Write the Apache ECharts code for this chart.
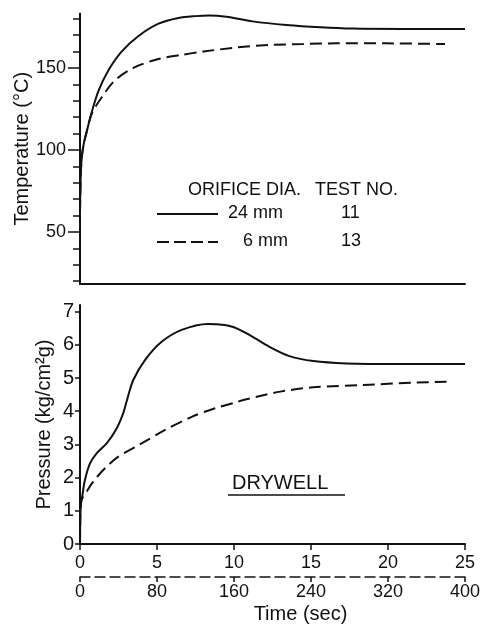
<!DOCTYPE html>
<html>
<head>
<meta charset="utf-8">
<script src="https://cdn.jsdelivr.net/npm/echarts@6/dist/echarts.min.js"></script>
<style>
  html, body { margin: 0; padding: 0; background: #fff; }
  #main { width: 488px; height: 625px; }
</style>
</head>
<body>
<div id="main"></div>
<script>
// temperature, 24 mm orifice (test 11)
var tTemp24 = [0, 0.05, 0.12, 0.25, 0.43, 0.76, 1.2, 1.84, 2.7, 3.8, 5.1, 6.4, 7.5, 8.4, 9.5, 11.2, 13.4, 15.6, 17.7, 21, 25];
var temp24 = [62, 85, 96, 104, 111, 123, 136, 148.5, 160, 169.5, 177, 180.5, 181.6, 182, 181.2, 178.4, 176.2, 174.8, 174, 173.8, 173.8];
// temperature, 6 mm orifice (test 13)
var tTemp6 = [0, 0.05, 0.12, 0.25, 0.43, 0.76, 1.4, 2.27, 3.57, 5.1, 6.6, 8, 10.2, 12.3, 14.5, 16.7, 19.9, 23.7];
var temp6 = [62, 85, 96, 104, 111, 122, 132, 142.5, 150.5, 155.5, 158, 160, 162.5, 164, 164.6, 165, 165, 164.6];
// pressure, 24 mm
var tPres24 = [0, 0.02, 0.06, 0.15, 0.32, 0.65, 1.08, 1.73, 2.38, 2.81, 3.03, 3.46, 4.22, 5.3, 6.6, 8.3, 9.4, 10, 11, 12.3, 13.6, 15.15, 17.3, 20.6, 25];
var pres24 = [0, 0.8, 1.2, 1.45, 1.93, 2.43, 2.73, 3.03, 3.48, 3.94, 4.3, 4.94, 5.54, 6.09, 6.45, 6.63, 6.6, 6.53, 6.3, 5.94, 5.66, 5.51, 5.44, 5.42, 5.42];
// pressure, 6 mm
var tPres6 = [0, 0.02, 0.06, 0.1, 0.43, 0.86, 1.62, 2.49, 4, 5.5, 7.25, 8.77, 10.06, 10.8, 13, 15.15, 18.4, 21.6, 23.8];
var pres6 = [0, 0.8, 1.2, 1.33, 1.58, 1.88, 2.28, 2.63, 3.03, 3.43, 3.83, 4.09, 4.26, 4.36, 4.59, 4.72, 4.79, 4.86, 4.89];

var tempLabels = [50, 100, 150];
var tempMinor = [20, 30, 40, 60, 70, 80, 90, 110, 120, 130, 140, 160, 170, 180];
var presLabels = [0, 1, 2, 3, 4, 5, 6, 7];

function zip(xs, ys) {
  return xs.map(function (x, i) { return [x, ys[i]]; });
}

var ink = '#111';
var font = 'Liberation Sans';

var chart = echarts.init(document.getElementById('main'));

var option = {
  backgroundColor: '#fff',
  animation: false,
  textStyle: { fontFamily: font, color: ink },
  grid: [
    { left: 80, top: 13.5, width: 385, height: 270.5, outerBoundsMode: 'none', containLabel: false },
    { left: 80, top: 305, width: 385, height: 239, outerBoundsMode: 'none', containLabel: false }
  ],
  xAxis: [
    {
      type: 'value', gridIndex: 0, min: 0, max: 25,
      axisLine: { lineStyle: { color: ink, width: 2 } },
      axisTick: { show: false }, axisLabel: { show: false }, splitLine: { show: false }
    },
    {
      type: 'value', gridIndex: 1, min: 0, max: 25, interval: 5,
      axisLine: { lineStyle: { color: ink, width: 2 } },
      axisTick: { length: 6, lineStyle: { color: ink, width: 1.5 } },
      axisLabel: { fontSize: 18, color: ink, margin: 10 },
      splitLine: { show: false }
    },
    {
      type: 'value', gridIndex: 1, position: 'bottom', offset: 33, min: 0, max: 400, interval: 80,
      name: 'Time (sec)', nameLocation: 'middle', nameGap: 27, nameMoveOverlap: false,
      nameTextStyle: { fontSize: 20, color: ink, padding: [0, 0, 0, 56] },
      axisLine: { lineStyle: { color: ink, width: 1.5, type: [10, 5] } },
      axisTick: { length: 5, lineStyle: { color: ink, width: 1.5 } },
      axisLabel: { fontSize: 18, color: ink, margin: 6 },
      splitLine: { show: false }
    }
  ],
  yAxis: [
    {
      type: 'value', gridIndex: 0, position: 'left', min: 18.3, max: 183.2,
      name: 'Temperature (°C)', nameLocation: 'middle', nameGap: 48, nameMoveOverlap: false,
      nameTextStyle: { fontSize: 20, color: ink },
      axisLine: { show: true, onZero: false, lineStyle: { color: ink, width: 2 } },
      axisTick: { show: true, length: 12, customValues: tempLabels, lineStyle: { color: ink, width: 1.5 } },
      axisLabel: { fontSize: 18, color: ink, margin: 14, customValues: tempLabels },
      splitLine: { show: false }
    },
    {
      type: 'value', gridIndex: 0, position: 'left', offset: 0, min: 18.3, max: 183.2,
      axisLine: { show: false, onZero: false },
      axisTick: { show: true, length: 7, customValues: tempMinor, lineStyle: { color: ink, width: 1.5 } },
      axisLabel: { show: false },
      splitLine: { show: false }
    },
    {
      type: 'value', gridIndex: 1, min: 0, max: 7.2,
      name: 'Pressure (kg/cm²g)', nameLocation: 'middle', nameGap: 26, nameMoveOverlap: false,
      nameTextStyle: { fontSize: 20, color: ink },
      axisLine: { show: true, onZero: false, lineStyle: { color: ink, width: 2 } },
      axisTick: { show: true, length: 5, customValues: presLabels, lineStyle: { color: ink, width: 1.5 } },
      axisLabel: { fontSize: 20, color: ink, margin: 6, customValues: presLabels },
      splitLine: { show: false }
    }
  ],
  series: [
    {
      type: 'line', xAxisIndex: 0, yAxisIndex: 0, data: zip(tTemp24, temp24),
      showSymbol: false, smooth: 0.3,
      lineStyle: { color: ink, width: 2 }
    },
    {
      type: 'line', xAxisIndex: 0, yAxisIndex: 0, data: zip(tTemp6, temp6),
      showSymbol: false, smooth: 0.3,
      lineStyle: { color: ink, width: 2, type: [12, 6] }
    },
    {
      type: 'line', xAxisIndex: 1, yAxisIndex: 2, data: zip(tPres24, pres24),
      showSymbol: false, smooth: 0.3,
      lineStyle: { color: ink, width: 2 }
    },
    {
      type: 'line', xAxisIndex: 1, yAxisIndex: 2, data: zip(tPres6, pres6),
      showSymbol: false, smooth: 0.3,
      lineStyle: { color: ink, width: 2, type: [12, 6] }
    }
  ],
  graphic: [
    { type: 'text', x: 188, y: 190, style: { text: 'ORIFICE DIA.', font: '18px "Liberation Sans"', fill: ink, verticalAlign: 'middle' } },
    { type: 'text', x: 315, y: 190, style: { text: 'TEST NO.', font: '18px "Liberation Sans"', fill: ink, verticalAlign: 'middle' } },
    { type: 'line', shape: { x1: 157, y1: 214, x2: 218, y2: 214 }, style: { stroke: ink, lineWidth: 2 } },
    { type: 'text', x: 228, y: 213, style: { text: '24 mm', font: '18px "Liberation Sans"', fill: ink, verticalAlign: 'middle' } },
    { type: 'text', x: 341, y: 213, style: { text: '11', font: '18px "Liberation Sans"', fill: ink, verticalAlign: 'middle' } },
    { type: 'line', shape: { x1: 157, y1: 242, x2: 218, y2: 242 }, style: { stroke: ink, lineWidth: 2, lineDash: [12, 5] } },
    { type: 'text', x: 243, y: 241, style: { text: '6 mm', font: '18px "Liberation Sans"', fill: ink, verticalAlign: 'middle' } },
    { type: 'text', x: 341, y: 241, style: { text: '13', font: '18px "Liberation Sans"', fill: ink, verticalAlign: 'middle' } },
    { type: 'text', x: 232, y: 483, style: { text: 'DRYWELL', font: '20px "Liberation Sans"', fill: ink, verticalAlign: 'middle' } },
    { type: 'line', shape: { x1: 228, y1: 495, x2: 345, y2: 495 }, style: { stroke: ink, lineWidth: 1.5 } }
  ]
};

chart.setOption(option);
window.addEventListener('resize', function () { chart.resize(); });
</script>
</body>
</html>
